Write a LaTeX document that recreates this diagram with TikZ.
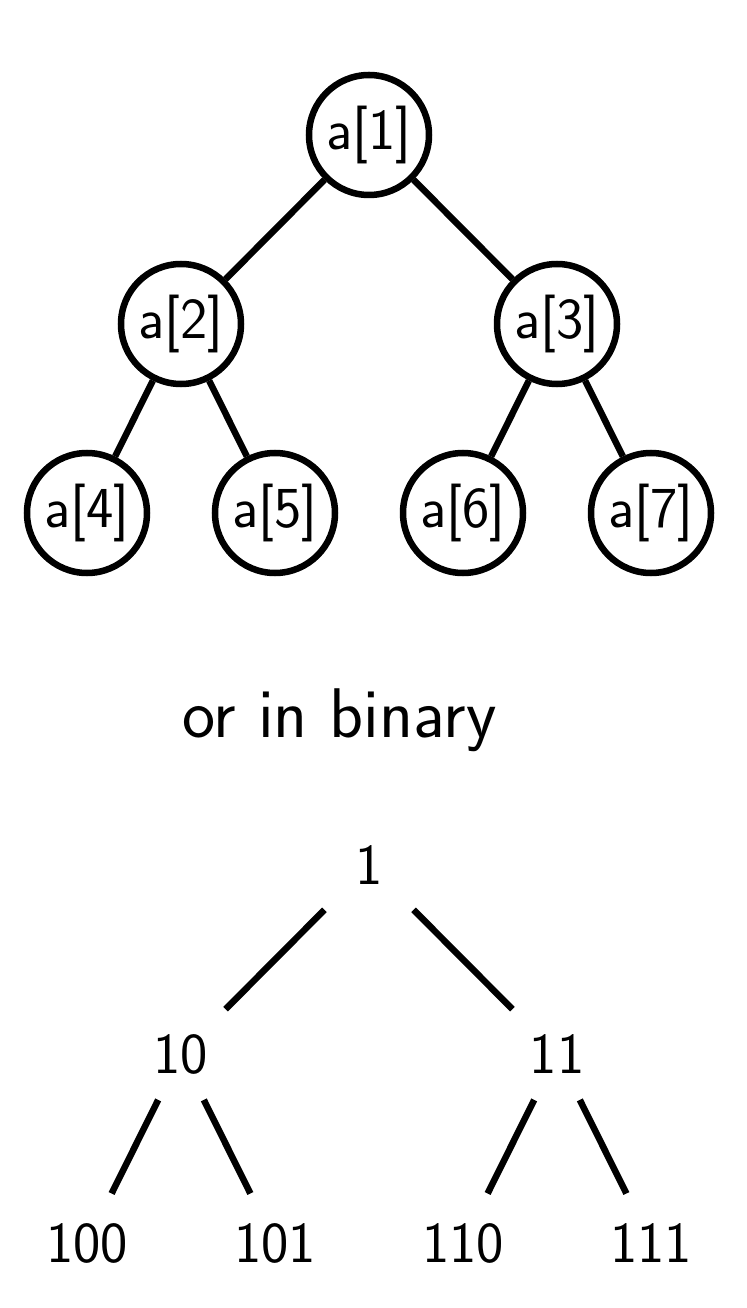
\documentclass[tikz,border=0pt]{standalone}
\usetikzlibrary{shapes.geometric, arrows}
\tikzstyle{cell} = [
    circle, 
    draw=black, 
    line width=3.7pt, 
    minimum size=2.4cm, 
    inner sep=0pt, 
    font=\sffamily\fontsize{33}{40}\selectfont
]
\tikzstyle{bits} = [
    cell, 
    draw=none
]
\tikzstyle{edge} = [
    line width=3.7pt
]
\tikzstyle{leafedge} = [
    edge, 
    shorten <=-0.24cm, 
    shorten >=-0.16cm
]

\begin{document}
\begin{tikzpicture}[node distance=3.78cm]
        \useasboundingbox (-7.38,2.7) rectangle (7.54,-23.46);
        \node (a1) [cell] {a[1]};
        \node (a2) [cell, below of=a1, xshift=-3.76cm] {a[2]};
        \node (a3) [cell, below of=a1, xshift=3.76cm] {a[3]};
        \node (a4) [cell, below of=a2, xshift=-1.88cm] {a[4]};
        \node (a5) [cell, below of=a2, xshift=1.88cm] {a[5]};
        \node (a6) [cell, below of=a3, xshift=-1.88cm] {a[6]};
        \node (a7) [cell, below of=a3, xshift=1.88cm] {a[7]};

        \node (caption) at (-0.59,-11.7) [font=\sffamily\fontsize{40}{48}\selectfont] {or in binary};

        \node (b1) at (0,-14.6) [bits] {1};
        \node (b10) [bits, below of=b1, xshift=-3.76cm] {10};
        \node (b11) [bits, below of=b1, xshift=3.76cm] {11};
        \node (b100) [bits, below of=b10, xshift=-1.88cm] {100};
        \node (b101) [bits, below of=b10, xshift=1.88cm] {101};
        \node (b110) [bits, below of=b11, xshift=-1.88cm] {110};
        \node (b111) [bits, below of=b11, xshift=1.88cm] {111};

        \draw[edge] (a1) -- (a2);
        \draw[edge] (a1) -- (a3);
        \draw[edge] (a2) -- (a4);
        \draw[edge] (a2) -- (a5);
        \draw[edge] (a3) -- (a6);
        \draw[edge] (a3) -- (a7);

        \draw[edge] (b1) -- (b10);
        \draw[edge] (b1) -- (b11);
        \draw[leafedge] (b10) -- (b100);
        \draw[leafedge] (b10) -- (b101);
        \draw[leafedge] (b11) -- (b110);
        \draw[leafedge] (b11) -- (b111);
    \end{tikzpicture}
\end{document}
